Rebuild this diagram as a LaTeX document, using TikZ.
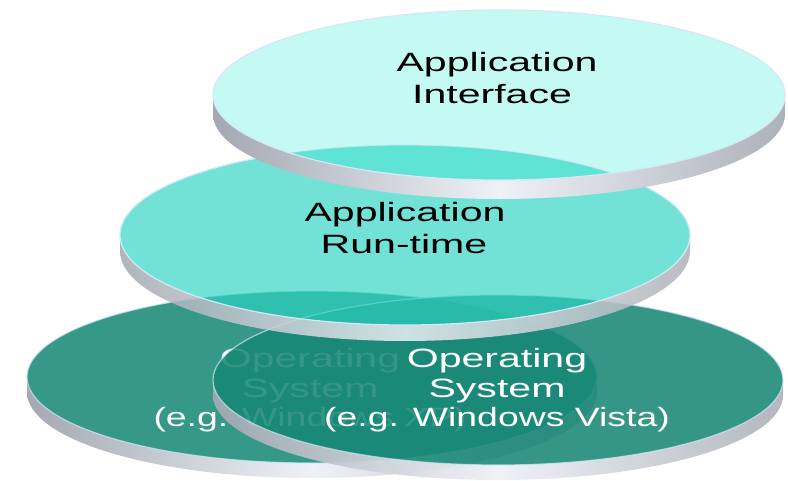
\documentclass[tikz,border=0pt]{standalone}
\usepackage{fontspec}
\newfontfamily\discfont[FakeStretch=1.55]{Liberation Sans}
\definecolor{topc}{HTML}{C5F9F3}
\definecolor{midc}{HTML}{2DD5C4}
\definecolor{botl}{HTML}{369887}
\definecolor{botr}{HTML}{178775}
\definecolor{topmid}{HTML}{5FE3D5}
\definecolor{rimdark}{HTML}{A4A8B2}
\definecolor{rimlight}{HTML}{EEF1F7}
\definecolor{edgec}{HTML}{D4E8F6}
\newcommand\rimpath[5]{(#1-#3,#2) arc[start angle=180,end angle=0,x radius=#3,y radius=#4] -- ++(0,#5) arc[start angle=0,end angle=180,x radius=#3,y radius=#4] -- cycle}
\tikzset{
  rimstyle/.style={left color=rimdark, right color=rimdark!90, middle color=rimlight},
  edgeline/.style={draw=edgec, line width=1.2pt},
  lbl/.style={anchor=base, inner sep=0pt, font=\discfont\fontsize{26.5}{30}\selectfont},
  dark/.style={lbl, text=black},
  light/.style={lbl, text=white}
}
\begin{document}
\begin{tikzpicture}[x=1pt,y=-1pt]
\fill[white] (0,0) rectangle (788,481);
\useasboundingbox (0,0) rectangle (788,481);
% bottom-left disc
\shade[rimstyle] \rimpath{312}{377}{285}{86}{15};
\fill[botl] (312,377) ellipse[x radius=285,y radius=86];
\draw[edgeline, draw opacity=0.7] (312,377) ellipse[x radius=285,y radius=86];
\node[light] (l1) at (310,368) {Operating};
\node[light] (l2) at (310,398) {System};
\node[light] (l3) at (310,426) {\scalebox{0.91}[1]{(e.g. Windows XP)}};
% bottom-right disc
\shade[rimstyle, opacity=0.92] \rimpath{498}{380}{285}{85}{15};
\fill[botr, fill opacity=0.87] (498,380) ellipse[x radius=285,y radius=85];
\draw[edgeline, draw opacity=0.7] (498,380) ellipse[x radius=285,y radius=85];
\node[light] (r1) at (497,368) {Operating};
\node[light] (r2) at (497,398) {System};
\node[light] (r3) at (497,426) {\scalebox{0.91}[1]{(e.g. Windows Vista)}};
% middle disc
\shade[rimstyle, opacity=0.85] \rimpath{405}{235}{285}{90}{16};
\fill[midc, fill opacity=0.67] (405,235) ellipse[x radius=285,y radius=90];
\draw[edgeline] (405,235) ellipse[x radius=285,y radius=90];
\node[dark] (m1) at (405,222) {Application};
\node[dark] (m2) at (404,254) {Run-time};
% top disc
\shade[rimstyle] \rimpath{499}{95}{286}{85}{19};
\fill[topc] (499,95) ellipse[x radius=286,y radius=85];
\begin{scope}
  \clip (499,95) ellipse[x radius=286,y radius=85];
  \fill[topmid] (405,235) ellipse[x radius=285,y radius=90];
  \draw[edgeline, draw opacity=0.6] (405,235) ellipse[x radius=285,y radius=90];
\end{scope}
\draw[edgeline] (499,95) ellipse[x radius=286,y radius=85];
\node[dark] (t1) at (497,72) {Application};
\node[dark] (t2) at (492,104) {Interface};
\end{tikzpicture}
\end{document}
